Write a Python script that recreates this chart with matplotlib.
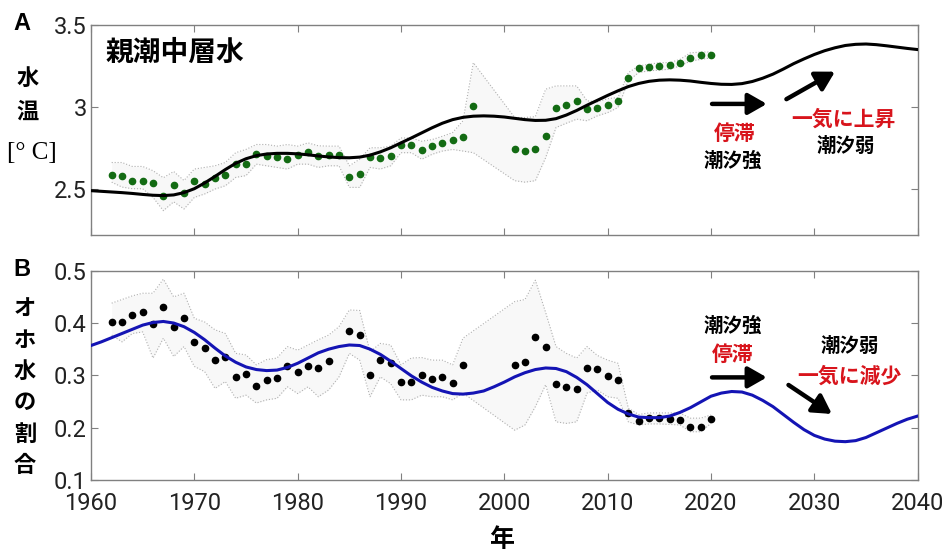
import numpy as np
import matplotlib
matplotlib.use("Agg")
from matplotlib import pyplot as plt

JP = ['Noto Sans CJK JP', 'DejaVu Sans']
plt.rcParams['font.family'] = ['Roboto', 'DejaVu Sans']

# ---- panel A: Oyashio intermediate water temperature ----
years_a = [1962, 1963, 1964, 1965, 1966, 1967, 1968, 1969, 1970, 1971, 1972,
           1973, 1974, 1975, 1976, 1977, 1978, 1979, 1980, 1981, 1982, 1983,
           1984, 1985, 1986, 1987, 1988, 1989, 1990, 1991, 1992, 1993, 1994,
           1995, 1996, 1997, 2001, 2002, 2003, 2004, 2005, 2006, 2007, 2008,
           2009, 2010, 2011, 2012, 2013, 2014, 2015, 2016, 2017, 2018, 2019, 2020]
temp = [2.583, 2.575, 2.547, 2.548, 2.537, 2.457, 2.522, 2.474, 2.547, 2.530,
        2.567, 2.583, 2.652, 2.652, 2.713, 2.699, 2.695, 2.679, 2.705, 2.724,
        2.697, 2.705, 2.705, 2.569, 2.589, 2.695, 2.689, 2.699, 2.766, 2.764,
        2.734, 2.760, 2.778, 2.797, 2.815, 3.004, 2.740, 2.728, 2.742, 2.821,
        2.994, 3.012, 3.037, 2.986, 2.992, 3.014, 3.035, 3.179, 3.238, 3.242,
        3.252, 3.258, 3.270, 3.299, 3.315, 3.315]
temp_hi = [2.66, 2.66, 2.636, 2.636, 2.61, 2.567, 2.605, 2.55, 2.62, 2.63,
           2.64, 2.66, 2.72, 2.74, 2.77, 2.77, 2.76, 2.77, 2.76, 2.78,
           2.762, 2.76, 2.76, 2.64, 2.68, 2.75, 2.75, 2.76, 2.81, 2.81,
           2.79, 2.80, 2.82, 2.843, 2.915, 3.27, 2.935, 2.935, 2.94, 3.108,
           3.128, 3.128, 3.128, 3.037, 3.03, 3.05, 3.057, 3.209, 3.25, 3.26,
           3.27, 3.27, 3.29, 3.33, 3.335, 3.335]
temp_lo = [2.54, 2.51, 2.50, 2.50, 2.447, 2.366, 2.42, 2.376, 2.447, 2.468,
           2.498, 2.518, 2.569, 2.58, 2.65, 2.64, 2.63, 2.62, 2.65, 2.65,
           2.63, 2.64, 2.64, 2.508, 2.508, 2.63, 2.62, 2.64, 2.72, 2.72,
           2.68, 2.71, 2.73, 2.74, 2.73, 2.72, 2.549, 2.54, 2.549, 2.69,
           2.874, 2.90, 2.925, 2.915, 2.945, 2.965, 2.996, 3.159, 3.21, 3.22,
           3.225, 3.23, 3.25, 3.28, 3.29, 3.30]

fit_years = list(range(1960, 2041))
temp_fit = [2.488, 2.484, 2.480, 2.476, 2.471, 2.465, 2.460, 2.458, 2.462, 2.476,
            2.500, 2.535, 2.575, 2.617, 2.655, 2.683, 2.702, 2.712, 2.716, 2.716,
            2.713, 2.707, 2.700, 2.694, 2.690, 2.689, 2.693, 2.705, 2.725, 2.750,
            2.780, 2.810, 2.841, 2.872, 2.900, 2.922, 2.936, 2.943, 2.945, 2.943,
            2.938, 2.930, 2.922, 2.917, 2.918, 2.928, 2.950, 2.978, 3.010, 3.040,
            3.070, 3.098, 3.124, 3.143, 3.156, 3.163, 3.165, 3.163, 3.158, 3.150,
            3.143, 3.138, 3.137, 3.142, 3.155, 3.175, 3.200, 3.231, 3.264, 3.293,
            3.320, 3.343, 3.361, 3.375, 3.382, 3.384, 3.380, 3.373, 3.365, 3.357,
            3.350]

# ---- panel B: ratio of Okhotsk water ----
years_b = [1962, 1963, 1964, 1965, 1966, 1967, 1968, 1969, 1970, 1971, 1972,
           1973, 1974, 1975, 1976, 1977, 1978, 1979, 1980, 1981, 1982, 1983,
           1985, 1986, 1987, 1988, 1989, 1990, 1991, 1992, 1993, 1994, 1995,
           1996, 2001, 2002, 2003, 2004, 2005, 2006, 2007, 2008, 2009, 2010,
           2011, 2012, 2013, 2014, 2015, 2016, 2017, 2018, 2019, 2020]
ratio = [0.4025, 0.4025, 0.415, 0.421, 0.3975, 0.4306, 0.3918, 0.4096, 0.3637,
         0.3516, 0.3287, 0.335, 0.2974, 0.3025, 0.280, 0.2904, 0.2955, 0.318,
         0.3057, 0.318, 0.3134, 0.3268, 0.3853, 0.377, 0.3006, 0.3293, 0.3241,
         0.2866, 0.2866, 0.301, 0.2935, 0.296, 0.2847, 0.319, 0.319, 0.326,
         0.3738, 0.3541, 0.2828, 0.277, 0.2738, 0.3146, 0.3121, 0.2987, 0.2904,
         0.2273, 0.212, 0.2178, 0.2178, 0.2159, 0.2146, 0.2005, 0.2018, 0.2159]

band_years_b = [1962, 1963, 1964, 1965, 1966, 1967, 1968, 1969, 1970, 1971,
                1972, 1973, 1974, 1975, 1976, 1977, 1978, 1979, 1980, 1981,
                1982, 1983, 1984, 1985, 1986, 1987, 1988, 1989, 1990, 1991,
                1992, 1993, 1994, 1995, 1996, 2001, 2002, 2003, 2004, 2005,
                2006, 2007, 2008, 2009, 2010, 2011, 2012, 2013, 2014, 2015,
                2016, 2017, 2018, 2019, 2020]
ratio_hi = [0.438, 0.445, 0.452, 0.457, 0.457, 0.484, 0.45, 0.457, 0.409, 0.402,
            0.387, 0.38, 0.342, 0.339, 0.32, 0.33, 0.333, 0.355, 0.348, 0.358,
            0.368, 0.377, 0.393, 0.425, 0.424, 0.345, 0.361, 0.358, 0.32, 0.333,
            0.334, 0.329, 0.329, 0.32, 0.371, 0.441, 0.445, 0.482, 0.42, 0.355,
            0.342, 0.333, 0.355, 0.338, 0.329, 0.323, 0.237, 0.225, 0.228, 0.228,
            0.228, 0.228, 0.218, 0.218, 0.224]
ratio_lo = [0.377, 0.364, 0.380, 0.383, 0.333, 0.371, 0.336, 0.355, 0.317, 0.307,
            0.275, 0.288, 0.256, 0.262, 0.247, 0.253, 0.256, 0.278, 0.265, 0.278,
            0.259, 0.272, 0.297, 0.342, 0.329, 0.259, 0.297, 0.284, 0.253, 0.253,
            0.262, 0.259, 0.259, 0.253, 0.266, 0.195, 0.205, 0.24, 0.282, 0.211,
            0.208, 0.211, 0.266, 0.272, 0.259, 0.256, 0.211, 0.205, 0.207, 0.207,
            0.206, 0.205, 0.192, 0.192, 0.208]

ratio_fit = [0.357, 0.364, 0.372, 0.380, 0.388, 0.396, 0.401, 0.403, 0.400, 0.393,
             0.382, 0.368, 0.352, 0.337, 0.325, 0.316, 0.311, 0.309, 0.310, 0.315,
             0.323, 0.333, 0.343, 0.350, 0.355, 0.358, 0.357, 0.350, 0.340, 0.327,
             0.313, 0.299, 0.287, 0.277, 0.270, 0.265, 0.264, 0.266, 0.270, 0.278,
             0.287, 0.297, 0.305, 0.311, 0.314, 0.313, 0.307, 0.296, 0.282, 0.265,
             0.248, 0.235, 0.226, 0.220, 0.219, 0.219, 0.222, 0.229, 0.238, 0.249,
             0.260, 0.266, 0.269, 0.268, 0.262, 0.252, 0.240, 0.225, 0.210, 0.196,
             0.185, 0.178, 0.174, 0.173, 0.175, 0.181, 0.190, 0.199, 0.208, 0.216,
             0.222]

RED = '#d8141c'
EDGE = '#808080'

fig = plt.figure(figsize=(9.48, 5.56), dpi=100)
ax1 = fig.add_axes([0.096, 0.577, 0.872, 0.378])
ax2 = fig.add_axes([0.096, 0.137, 0.872, 0.376])


def style(ax):
    for s in ax.spines.values():
        s.set_color(EDGE)
        s.set_linewidth(1.0)
    ax.tick_params(direction='in', top=True, right=True, length=5,
                   color=EDGE, labelsize=17, labelcolor='#222222', pad=3)
    ax.set_xlim(1960, 2040)
    ax.set_xticks([1960, 1970, 1980, 1990, 2000, 2010, 2020, 2030, 2040])


def band(ax, x, lo, hi):
    ax.fill_between(x, lo, hi, color='#f8f8f8', lw=0, zorder=1)
    ax.plot(x, lo, ls=':', color='#b0b0b0', lw=0.8, zorder=2)
    ax.plot(x, hi, ls=':', color='#b0b0b0', lw=0.8, zorder=2)


def arrow(ax, x0, y0, x1, y1):
    ax.annotate('', xy=(x1, y1), xytext=(x0, y0),
                arrowprops=dict(arrowstyle='-|>,head_length=0.7,head_width=0.4',
                                lw=3.2, color='black', mutation_scale=16,
                                shrinkA=0, shrinkB=0))


# panel A
style(ax1)
band(ax1, years_a, temp_lo, temp_hi)
ax1.plot(years_a, temp, 'o', color='#136b13', ms=4.5, zorder=3)
ax1.plot(fit_years, temp_fit, color='black', lw=2.2, zorder=4)
ax1.set_ylim(2.216, 3.5)
ax1.set_yticks([2.5, 3, 3.5])
ax1.set_yticklabels(['2.5', '3', '3.5'])
ax1.tick_params(labelbottom=False)
ax1.text(1961.4, 3.33, '親潮中層水', family=JP, fontsize=20, fontweight='bold',
         va='center', ha='left')
arrow(ax1, 2020.1, 3.018, 2025.4, 3.018)
arrow(ax1, 2027.3, 3.047, 2032.0, 3.215)
ax1.text(2022.3, 2.835, '停滞', family=JP, fontsize=15, fontweight='bold',
         color=RED, ha='center', va='center')
ax1.text(2022.1, 2.67, '潮汐強', family=JP, fontsize=14, fontweight='bold',
         ha='center', va='center')
ax1.text(2032.8, 2.925, '一気に上昇', family=JP, fontsize=15, fontweight='bold',
         color=RED, ha='center', va='center')
ax1.text(2033.1, 2.758, '潮汐弱', family=JP, fontsize=14, fontweight='bold',
         ha='center', va='center')

# panel B
style(ax2)
band(ax2, band_years_b, ratio_lo, ratio_hi)
ax2.plot(years_b, ratio, 'o', color='black', ms=4.5, zorder=3)
ax2.plot(fit_years, ratio_fit, color='#1414b4', lw=2.2, zorder=4)
ax2.set_ylim(0.1, 0.5)
ax2.set_yticks([0.1, 0.2, 0.3, 0.4, 0.5])
ax2.set_yticklabels(['0.1', '0.2', '0.3', '0.4', '0.5'])
ax2.tick_params(axis='x', pad=9)
arrow(ax2, 2020.1, 0.296, 2025.4, 0.296)
arrow(ax2, 2027.5, 0.2815, 2031.7, 0.226)
ax2.text(2022.1, 0.394, '潮汐強', family=JP, fontsize=14, fontweight='bold',
         ha='center', va='center')
ax2.text(2022.1, 0.339, '停滞', family=JP, fontsize=15, fontweight='bold',
         color=RED, ha='center', va='center')
ax2.text(2033.4, 0.355, '潮汐弱', family=JP, fontsize=14, fontweight='bold',
         ha='center', va='center')
ax2.text(2033.4, 0.2987, '一気に減少', family=JP, fontsize=15, fontweight='bold',
         color=RED, ha='center', va='center')

# panel letters and axis labels (figure pixel positions)
W, H = 948, 556
fig.text(22 / W, 1 - 24 / H, 'A', fontsize=17, fontweight='bold',
         ha='center', va='center', family=['Liberation Sans', 'DejaVu Sans'])
fig.text(22 / W, 1 - 270 / H, 'B', fontsize=17, fontweight='bold',
         ha='center', va='center', family=['Liberation Sans', 'DejaVu Sans'])
fig.text(28 / W, 1 - 78 / H, '水', family=JP, fontsize=16, fontweight='bold',
         ha='center', va='center')
fig.text(28 / W, 1 - 112 / H, '温', family=JP, fontsize=16, fontweight='bold',
         ha='center', va='center')
fig.text(32 / W, 1 - 153 / H, '[° C]', family=['Liberation Serif', 'DejaVu Serif'],
         fontsize=18, ha='center', va='center')
for ch, yp in zip('オホ水の割合', [308, 340, 371, 403, 434, 465]):
    fig.text(25 / W, 1 - yp / H, ch, family=JP, fontsize=16, fontweight='bold',
             ha='center', va='center')
fig.text(502 / W, 1 - 540 / H, '年', family=JP, fontsize=18, fontweight='bold',
         ha='center', va='center')

fig.savefig('out.png', dpi=100)
